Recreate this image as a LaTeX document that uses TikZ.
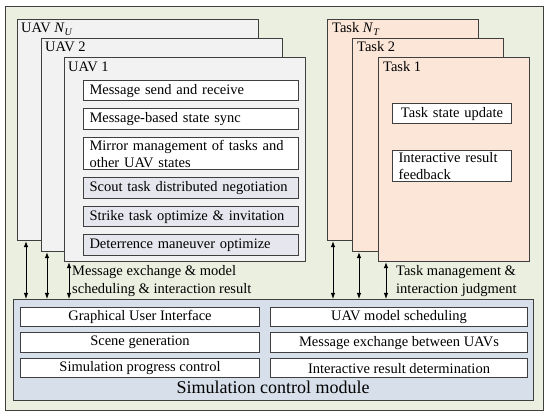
\documentclass[tikz,border=0pt]{standalone}
\usepackage{fontspec}
\setmainfont{Liberation Serif}
\usetikzlibrary{arrows.meta,positioning,calc}
\definecolor{edge}{HTML}{3F3F3F}
\definecolor{framebg}{HTML}{EBEFDF}
\definecolor{uavbg}{HTML}{F2F2F2}
\definecolor{taskbg}{HTML}{FCE6D8}
\definecolor{simbg}{HTML}{D6DFEA}
\definecolor{algbg}{HTML}{E6E6EE}
\newcommand{\subidx}[2]{\textit{#1}\raisebox{-0.45ex}{\fontsize{10}{10}\selectfont\textit{#2}}}
\tikzset{
  stackbox/.style={rectangle,draw=edge,line width=1.1pt,anchor=north west,inner sep=0pt},
  uavbox/.style={stackbox,fill=uavbg,minimum width=241pt},
  taskbox/.style={stackbox,fill=taskbg,minimum width=151pt},
  boxtitle/.style={anchor=base west,inner sep=0pt,font=\fontsize{14.5}{17}\selectfont},
  subbox/.style={rectangle,draw=edge,line width=1pt,fill=white,anchor=north west,
    align=left,text width=203pt,inner xsep=6pt,inner ysep=2pt,minimum height=20.5pt,
    font=\fontsize{14.5}{17}\selectfont},
  algbox/.style={subbox,fill=algbg},
  tasksub/.style={subbox,text width=107pt},
  simrow/.style={rectangle,draw=edge,line width=1pt,fill=white,align=center,
    inner sep=0pt,minimum height=19.5pt,font=\fontsize{14.5}{17}\selectfont},
  dualarr/.style={{Latex[length=6pt,width=4.5pt]}-{Latex[length=6pt,width=4.5pt]},line width=0.9pt,color=black},
  flowlabel/.style={anchor=west,align=left,inner sep=0pt,font=\fontsize{14.5}{17.5}\selectfont},
}
\begin{document}
\begin{tikzpicture}[x=1pt,y=-1pt]
  \useasboundingbox (0,0) rectangle (550,417);
  \draw[edge,fill=framebg,line width=1pt] (5,7) rectangle (543,411);

  % UAV stack
  \node[uavbox,minimum height=221pt] (uavN) at (17,19) {};
  \node[uavbox,minimum height=213pt] (uav2) at (41,38) {};
  \node[uavbox,minimum height=204pt] (uav1) at (64,57) {};
  \node[boxtitle] (uavNt) at (21,33) {UAV \subidx{N}{U}};
  \node[boxtitle] (uav2t) at (45,52) {UAV 2};
  \node[boxtitle] (uav1t) at (68,72) {UAV 1};

  \node[subbox] (msg) at (83,80) {Message send and receive};
  \node[subbox, below=7pt of msg.south west, anchor=north west] (sync) {Message-based state sync};
  \node[subbox, below=7.5pt of sync.south west, anchor=north west] (mirr) {Mirror management of tasks and\\other UAV states};
  \node[algbox, below=7.5pt of mirr.south west, anchor=north west] (scout) {Scout task distributed negotiation};
  \node[algbox, below=7pt of scout.south west, anchor=north west] (strike) {Strike task optimize \& invitation};
  \node[algbox, below=7pt of strike.south west, anchor=north west] (deter) {Deterrence maneuver optimize};

  % task stack
  \node[taskbox,minimum height=221pt] (taskN) at (327,19) {};
  \node[taskbox,minimum height=213pt] (task2) at (352,38) {};
  \node[taskbox,minimum height=204pt] (task1) at (378,57) {};
  \node[boxtitle] (taskNt) at (332,33) {Task \subidx{N}{T}};
  \node[boxtitle] (task2t) at (357,52) {Task 2};
  \node[boxtitle] (task1t) at (383,72) {Task 1};
  \node[tasksub,align=center] (tupd) at (392,103) {Task state update};
  \node[tasksub] (tfeed) at (392,150) {Interactive result\\feedback};

  % simulation control module
  \node[rectangle,draw=edge,line width=1.1pt,fill=simbg,anchor=north west,
    minimum width=520pt,minimum height=101pt,inner sep=0pt] (sim) at (13,299) {};
  \node[simrow,minimum width=239pt,anchor=north west] (gui) at (20,307) {Graphical User Interface};
  \node[simrow,minimum width=239pt,below=5pt of gui] (scene) {Scene generation};
  \node[simrow,minimum width=239pt,below=5pt of scene] (prog) {Simulation progress control};
  \node[simrow,minimum width=257pt,anchor=north west] (sched) at (270,307) {UAV model scheduling};
  \node[simrow,minimum width=257pt,below=5pt of sched] (xchg) {Message exchange between UAVs};
  \node[simrow,minimum width=257pt,below=5pt of xchg] (judge) {Interactive result determination};
  \node[inner sep=0pt,font=\fontsize{18}{20}\selectfont] (simt) at (273,387) {Simulation control module};

  % interaction arrows
  \foreach \stk/\dx in {uavN/9,uav2/6,uav1/5,taskN/6,task2/7,task1/8}
    \draw[dualarr] ([xshift=\dx pt]\stk.south west) -- ([xshift=\dx pt]\stk.south west |- sim.north);

  \node[flowlabel] (uavflow) at (72,281) {Message exchange \& model\\scheduling \& interaction result};
  \node[flowlabel] (taskflow) at (396,281) {Task management \&\\interaction judgment};
\end{tikzpicture}
\end{document}
